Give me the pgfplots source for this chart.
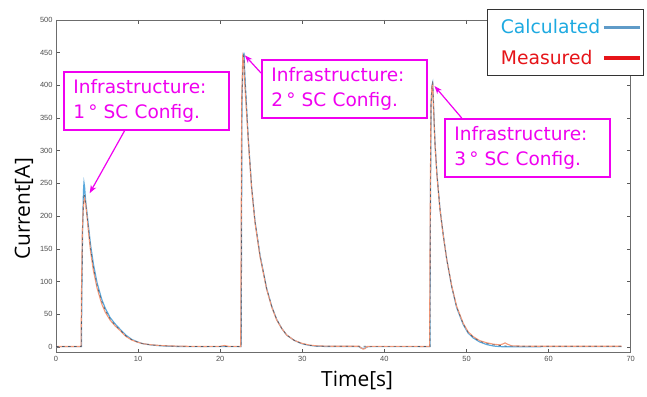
\documentclass[border=0pt]{standalone}
\usepackage{pgfplots}
\pgfplotsset{compat=1.18}
\usepackage{fontspec}
\setmainfont{Liberation Sans}
\newfontfamily\dejavu{DejaVu Sans}
\newfontfamily\opensans{Open Sans}
\usetikzlibrary{arrows.meta}
\definecolor{mag}{RGB}{240,0,240}
\definecolor{calc}{RGB}{90,168,220}
\definecolor{meas}{RGB}{243,152,120}
\definecolor{dashc}{RGB}{80,90,104}
\definecolor{legcyan}{RGB}{30,170,225}
\definecolor{legblue}{RGB}{95,155,200}
\definecolor{legred}{RGB}{230,20,25}
\begin{document}
\begin{tikzpicture}[x=1bp,y=1bp]
\useasboundingbox (0,0) rectangle (647,396);
\begin{axis}[
 at={(56bp,43.3bp)}, anchor=south west,
 scale only axis, width=574.7bp, height=332.7bp,
 xmin=0,xmax=70,ymin=-9,ymax=500,
 xtick={0,10,...,70}, ytick={0,50,...,500},
 tick align=inside, major tick length=4bp,
 axis line style={draw=gray!85!black, line width=0.9bp},
 every tick/.style={gray!70!black, line width=0.5bp},
 ticklabel style={font=\fontsize{7.5}{8}\selectfont, text=gray!60!black},
 /pgf/number format/assume math mode=true,
 xlabel={Time[s]}, ylabel={Current[A]},
 label style={font=\opensans\fontsize{21}{24}\selectfont, text=black},
 xlabel style={at={(axis description cs:0.524,-0.082)}, anchor=center},
 ylabel style={at={(axis description cs:-0.0557,0.432)}, anchor=center},
 legend plot pos=right,
 legend cell align=left,
 legend style={at={(axis description cs:1.0231,1.0331)}, anchor=north east,
   draw=black!80, line width=1bp, fill=white,
   font=\dejavu\fontsize{18.8}{22}\selectfont, row sep=11bp,
   inner xsep=2bp, inner ysep=8bp},
 legend image code/.code={\draw[#1] (0bp,0bp) -- (36bp,0bp);},
]
\addplot[forget plot, calc, line width=1.2bp] coordinates {
(0,0.3) (3.1,0.3) (3.14,80) (3.25,190) (3.35,240) (3.41,251) (3.48,245) (3.6,225)
(3.82,200) (4.22,155) (4.55,127) (5.0,98) (5.56,73) (6.0,59) (6.58,45) (7.2,35)
(7.8,27) (8.5,18) (9.2,11.5) (9.83,8) (10.5,5) (11.5,3) (12.7,1.6) (14,0.8) (16,0.3)
(22.55,0.3) (22.6,180) (22.65,380) (22.8,440) (22.9,450) (23.0,415) (23.42,318)
(23.83,244) (24.24,192) (24.85,140) (25.66,89) (26.3,61) (26.88,42) (27.5,28)
(28.1,18) (29,10) (29.9,5) (30.8,2.3) (31.75,1) (33,0.5) (36.9,0.3) (37.1,-1.5)
(37.4,-2.5) (37.7,-1.5) (38,0.3) (45.55,0.3) (45.6,200) (45.68,370) (45.8,400)
(45.88,404) (46.0,365) (46.16,312) (46.4,264) (46.77,211) (47.18,170) (47.59,134)
(48.2,92) (48.8,60) (49.6,34) (50.2,21) (50.83,13.5) (51.6,7.5) (52.46,3.5)
(53.3,1.2) (54.1,0.3) (55,0.1) (60,0.3) (68.9,0.3)
};
\addplot[forget plot, meas, line width=1.1bp] coordinates {
(0,0.5) (3.05,0.5) (3.12,100) (3.2,170) (3.3,208) (3.42,224) (3.5,227) (3.62,218)
(3.82,194) (4.0,170) (4.22,145) (4.55,117) (5.0,90) (5.56,66) (6.0,53) (6.58,41)
(7.2,32) (7.8,25) (8.5,16) (9.2,10.5) (9.83,7.5) (10.5,5) (11.5,3.2) (12.7,2)
(14,1.3) (16,0.8) (18,0.5) (20,0.8) (20.5,2) (21,0.8) (22.5,0.5) (22.56,200)
(22.62,380) (22.75,445) (22.85,440) (23.0,400) (23.42,316) (23.83,242) (24.24,190)
(24.85,138) (25.66,88) (26.3,60) (26.88,41) (27.5,28) (28.1,18) (29,10) (29.9,5.5)
(30.8,2.8) (31.75,1.5) (33,1) (35,0.8) (36.9,0.8) (37.2,-2) (37.4,-3.5) (37.6,-3)
(37.9,0.5) (40,0.8) (45.5,0.5) (45.58,200) (45.66,360) (45.78,398) (45.88,402)
(46.0,360) (46.16,310) (46.4,262) (46.77,210) (47.18,169) (47.59,134) (48.2,93)
(48.8,62) (49.6,36) (50.2,23) (50.83,15.5) (51.6,9.5) (52.46,6.2) (53.3,4) (54.1,3)
(54.45,4.5) (54.7,6) (55.0,4) (55.5,1.5) (57,1) (60,0.8) (65,0.8) (68.9,0.8)
};
\addplot[forget plot, dashc, line width=0.6bp, dash pattern=on 2.5bp off 3.5bp] coordinates {
(0,0.5) (3.08,0.5) (3.14,80) (3.25,180) (3.35,225) (3.45,235) (3.55,228) (3.7,210)
(3.82,197) (4.22,150) (4.55,122) (5.0,94) (5.56,70) (6.0,56) (6.58,43) (7.2,33)
(7.8,26) (8.5,17) (9.2,11) (9.83,7.8) (10.5,5) (11.5,3) (12.7,1.8) (14,1) (16,0.5)
(22.55,0.5) (22.6,180) (22.65,380) (22.8,440) (22.9,450) (23.0,415) (23.42,318)
(23.83,244) (24.24,192) (24.85,140) (25.66,89) (26.3,61) (26.88,42) (27.5,28)
(28.1,18) (29,10) (29.9,5) (30.8,2.3) (31.75,1) (33,0.8) (36.9,0.8) (38,0.8)
(45.55,0.5) (45.6,200) (45.68,370) (45.8,400) (45.88,404) (46.0,365) (46.16,312)
(46.4,264) (46.77,211) (47.18,170) (47.59,134) (48.2,92) (48.8,61) (49.6,35)
(50.2,22) (50.83,14.5) (51.6,8.5) (52.46,5) (53.3,3) (54.1,2) (55,1) (60,0.8) (68.9,0.8)
};
\addlegendimage{legblue, solid, line width=3bp}
\addlegendentry{\hspace*{9bp}\textcolor{legcyan}{Calculated}}
\addlegendimage{legred, solid, line width=3.2bp}
\addlegendentry{\hspace*{9bp}\textcolor{legred}{Measured}}
\coordinate (t1) at (axis cs:4.1,235);
\coordinate (t2) at (axis cs:23.0,446);
\coordinate (t3) at (axis cs:46.1,399);
\end{axis}
\tikzset{ibox/.style={draw=mag, line width=1.8bp, fill=white, text=mag, align=left,
  font=\dejavu\fontsize{18.6}{25}\selectfont, text width=146bp, inner xsep=9.5bp,
  inner ysep=7.5bp, anchor=north west},
  iarr/.style={draw=mag, line width=1.2bp, -{Stealth[length=8bp,width=6bp]}}}
\node[ibox] at (63,325) {Infrastructure:\\1\,°\ SC Config.};
\node[ibox] at (261,337) {Infrastructure:\\2\,°\ SC Config.};
\node[ibox] at (444,278) {Infrastructure:\\3\,°\ SC Config.};
\draw[iarr] (125,266) -- (t1);
\draw[iarr] (261,323) -- (t2);
\draw[iarr] (461.7,278) -- (t3);
\end{tikzpicture}
\end{document}
